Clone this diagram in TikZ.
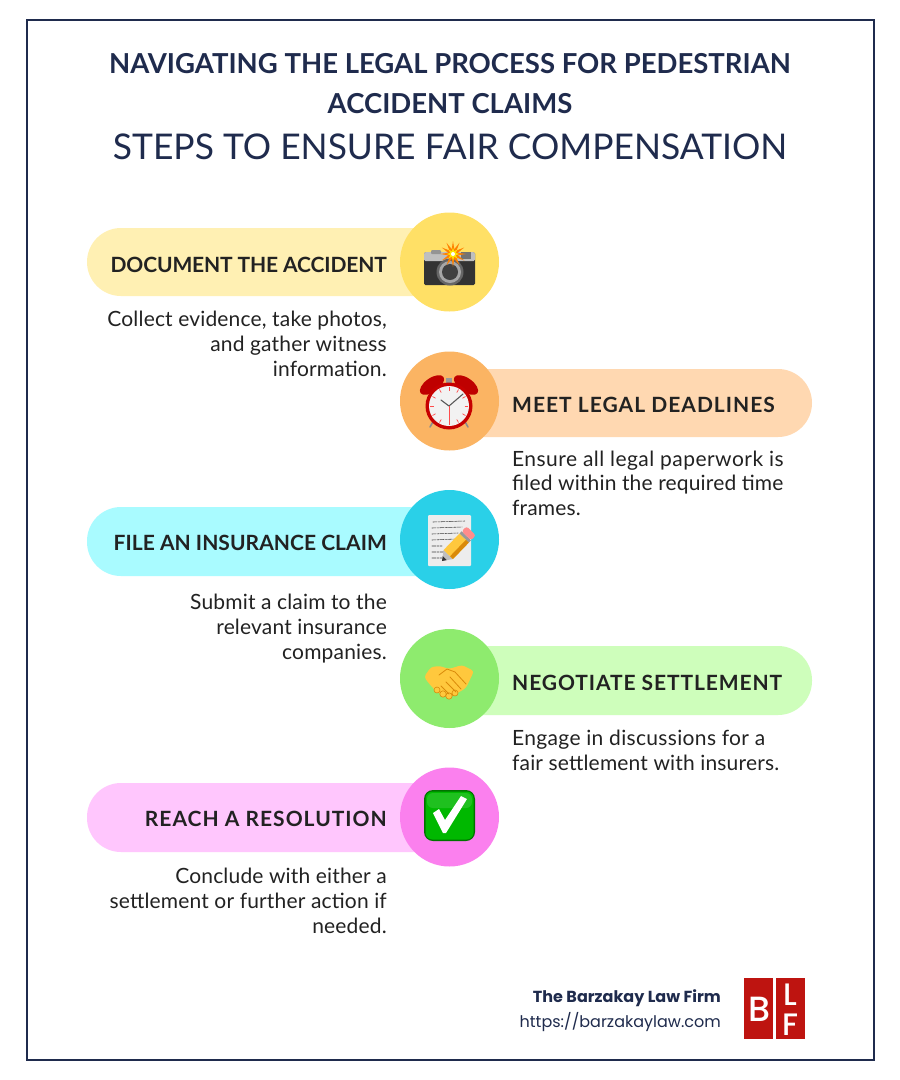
\documentclass[tikz,border=0pt]{standalone}
\usepackage{fontspec}
\setmainfont{Lato}
\newfontfamily\pop{Poppins}
\newfontfamily\popm{Poppins}[UprightFont=* Medium]
\usetikzlibrary{shapes.geometric}
\definecolor{navy}{HTML}{1F2B4D}
\definecolor{ink}{HTML}{222222}
\definecolor{logored}{HTML}{BE1410}
\definecolor{yp}{HTML}{FFF0B3}\definecolor{yc}{HTML}{FFE066}
\definecolor{op}{HTML}{FFD8B1}\definecolor{oc}{HTML}{FBB463}
\definecolor{cp}{HTML}{A9FBFF}\definecolor{cc}{HTML}{2AD0E8}
\definecolor{gp}{HTML}{CEFEBB}\definecolor{gc}{HTML}{8EEB6E}
\definecolor{pp}{HTML}{FFC6FD}\definecolor{pc}{HTML}{FB80EE}
\definecolor{hand}{HTML}{FFC83D}\definecolor{handd}{HTML}{D98A0A}
\newcommand{\lsp}[1]{\addfontfeature{LetterSpace=#1}}
\tikzset{
  x=1pt,y=-1pt,
  pill/.style={rounded corners=34pt},
  badge/.style={circle,minimum size=99pt,inner sep=0pt},
  head/.style={font=\fontsize{21}{25}\selectfont\bfseries,text=ink,inner sep=0pt},
  bodyr/.style={font=\fontsize{21}{25}\selectfont\lsp{0.8},text=ink,inner sep=0pt,anchor=base east},
  bodyl/.style={font=\fontsize{21}{25}\selectfont\lsp{0.8},text=ink,inner sep=0pt,anchor=base west},
  ttl/.style={font=\fontsize{27.5}{30}\selectfont\bfseries,text=navy,inner sep=0pt,anchor=base},
  sub/.style={font=\fontsize{35.4}{40}\selectfont,text=navy,inner sep=0pt,anchor=base},
  foot/.style={text=navy,inner sep=0pt,anchor=base east},
  logot/.style={text=white,inner sep=0pt,anchor=base},
}
\begin{document}
\begin{tikzpicture}
\useasboundingbox (0,0) rectangle (900,1080);
\fill[white] (0,0) rectangle (900,1080);
\draw[navy,line width=2.2pt] (27,20) rectangle (874,1060);
\node[ttl] (t1) at (450,73) {NAVIGATING THE LEGAL PROCESS FOR PEDESTRIAN};
\node[ttl] (t2) at (450,113) {ACCIDENT CLAIMS};
\node[sub] (t3) at (450,159) {STEPS TO ENSURE FAIR COMPENSATION};

% pills
\fill[yp,pill] (87,228) rectangle (460,296);
\fill[op,pill] (440,369) rectangle (812,437);
\fill[cp,pill] (87,507) rectangle (460,576);
\fill[gp,pill] (440,646) rectangle (812,715);
\fill[pp,pill] (87,783) rectangle (460,852);
% badges
\node[badge,fill=yc] (b1) at (449.5,262) {};
\node[badge,fill=oc] (b2) at (449.5,401) {};
\node[badge,fill=cc] (b3) at (449.5,539.5) {};
\node[badge,fill=gc] (b4) at (449.5,678.5) {};
\node[badge,fill=pc] (b5) at (449.5,817) {};

% headings
\node[head,anchor=base east] (h1) at (387,272) {\lsp{-0.7}DOCUMENT THE ACCIDENT};
\node[head,anchor=base west] (h2) at (512,412) {\lsp{4.8}MEET LEGAL DEADLINES};
\node[head,anchor=base east] (h3) at (387,550) {\lsp{0.2}FILE AN INSURANCE CLAIM};
\node[head,anchor=base west] (h4) at (512,690) {\lsp{4.3}NEGOTIATE SETTLEMENT};
\node[head,anchor=base east] (h5) at (387,826) {\lsp{4.8}REACH A RESOLUTION};
% bodies
\node[bodyr] (a1) at (387,326) {Collect evidence, take photos,};
\node[bodyr] (a2) at (387,351) {and gather witness};
\node[bodyr] (a3) at (387,376) {information.};
\node[bodyl] (c1) at (512,466) {\lsp{2.2}Ensure all legal paperwork is};
\node[bodyl] (c2) at (512,490) {filed within the required time};
\node[bodyl] (c3) at (512,515) {frames.};
\node[bodyr] (d1) at (387,609) {Submit a claim to the};
\node[bodyr] (d2) at (387,634) {relevant insurance};
\node[bodyr] (d3) at (387,659) {companies.};
\node[bodyl] (e1) at (512,745) {\lsp{1.6}Engage in discussions for a};
\node[bodyl] (e2) at (512,770) {fair settlement with insurers.};
\node[bodyr] (f1) at (387,883) {Conclude with either a};
\node[bodyr] (f2) at (387,908) {settlement or further action if};
\node[bodyr] (f3) at (387,933) {needed.};

% camera
\fill[rounded corners=1.5pt,black!80] (424,252) rectangle (475,285);
\fill[rounded corners=1.5pt,black!25] (424,252) rectangle (475,261);
\fill[black!42,rounded corners=1pt] (431,250) rectangle (441,254);
\fill[black!55] (461,252) rectangle (471,259);
\fill[black!60] (450,272) circle (13.5);
\fill[black!35] (450,272) circle (11);
\fill[black!75] (450,272) circle (8);
\node[star,star points=12,star point ratio=2.6,minimum size=26pt,inner sep=0pt,fill=orange] (flash) at (453,254) {};
\node[star,star points=8,star point ratio=2.2,minimum size=13pt,inner sep=0pt,fill=yellow!85!orange] (flash2) at (453,254) {};
\fill[white] (453,254) circle (2);

% alarm clock
\draw[black!45,line width=1.6pt,line cap=round] (434,420) -- (430,427) (464,420) -- (468,427);
\fill[red!75!black,rotate around={35:(432,385)}] (432,385) ellipse (14 and 7);
\fill[red!75!black,rotate around={-35:(466,385)}] (466,385) ellipse (14 and 7);
\fill[black!40] (446,378) rectangle (452,384);
\fill[red!78!black] (449,406) circle (23.5);
\fill[black!5] (449,406) circle (20);
\foreach \a in {0,30,...,330}{\draw[red!70,line width=.7pt] (449,406) ++(\a:15.5) -- ++(\a:3.5);}
\draw[black!65,line width=1.1pt,line cap=round] (449,406) -- (441,400) (449,406) -- (463,394);
\draw[red!70,line width=.5pt] (449,406) -- (449,423);

% memo and pencil
\fill[black!7,rounded corners=1pt] (428,515) rectangle (471,566);
\draw[black!75,line width=.55pt,line cap=round,dash pattern=on 4pt off 1.2pt on 2pt off 1pt]
 (433,522) -- (465,521) (432,528) -- (462,527)
 (432,534) -- (458,533) (432,540) -- (456,539) (432,546) -- (442,546)
 (432,552) -- (444,552) (432,558) -- (442,558);
\begin{scope}[rotate around={46:(442,561)}]
 \fill[black!25] (442,561) -- (451,554.5) -- (451,567.5) -- cycle;
 \fill[black!80] (442,561) -- (446,558.2) -- (446,563.8) -- cycle;
 \fill[hand] (451,554.5) rectangle (474,567.5);
 \fill[handd] (451,563.5) rectangle (474,567.5);
 \fill[black!40] (474,554.5) rectangle (477,567.5);
 \fill[red!45!white,rounded corners=2.5pt] (477,554.5) rectangle (484,567.5);
\end{scope}

% handshake
\fill[hand,rounded corners=3pt]
 (424,677) -- (431,667) -- (440,666) -- (449,669) -- (462,665) -- (474,671) -- (466,688) -- (456,694) -- (448,697) -- (438,693) -- (431,686) -- cycle;
\fill[hand,draw=handd,line width=.6pt]
 (437,690) circle (3) (443,694) circle (3.2) (449,696) circle (3.2) (455,693) circle (3);
\draw[handd,line width=.8pt,line cap=round]
 (439,675) -- (447,669) -- (455,672) -- (466,684)
 (450,677) -- (461,689) (446,682) -- (456,692) (441,686) -- (449,694);

% check
\fill[green!45!black,rounded corners=9pt] (424,790) rectangle (475,841);
\fill[green!72!black,rounded corners=7pt] (425.5,791.5) rectangle (473.5,839.5);
\fill[white,opacity=.12,rounded corners=6pt] (427,793) rectangle (472,808);
\fill[white] (433,813) -- (439,809) -- (445,820) -- (461,796) -- (467,799) -- (446,833) -- (443,833) -- cycle;

% footer
\node[foot,font=\pop\bfseries\fontsize{16}{17}\selectfont] (n1) at (721,1002) {The Barzakay Law Firm};
\node[foot,font=\pop\fontsize{16}{17}\selectfont] (n2) at (721,1027) {https://barzakaylaw.com};
% logo
\fill[logored] (744,977.5) rectangle (773,1039);
\fill[logored] (776,977.5) rectangle (805,1039);
\node[logot,font=\popm\fontsize{35}{35}\selectfont] (lb) at (759.5,1021) {B};
\node[logot,font=\popm\fontsize{31}{31}\selectfont] (ll) at (790.5,1005) {L};
\node[logot,font=\popm\fontsize{31}{31}\selectfont] (lf) at (790.5,1035) {F};
\end{tikzpicture}
\end{document}
